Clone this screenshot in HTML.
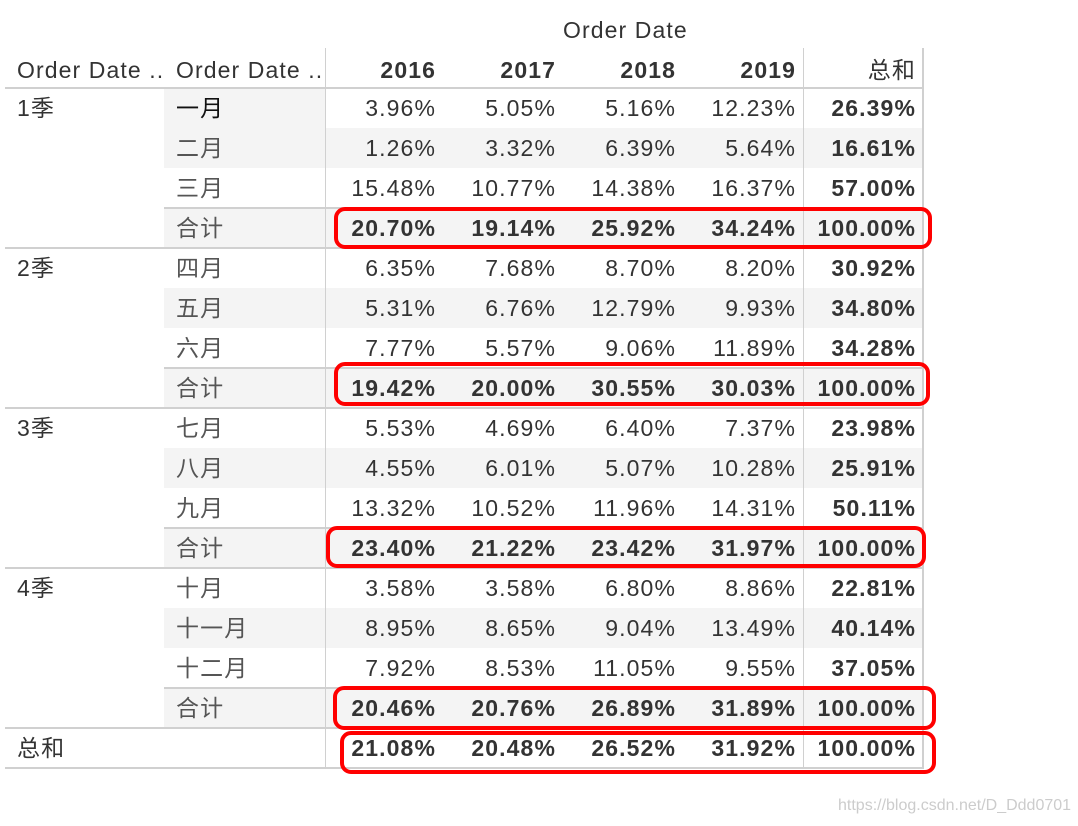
<!DOCTYPE html>
<html><head><meta charset="utf-8"><style>
body{margin:0;width:1078px;height:824px;background:#fff;overflow:hidden;font-family:"Liberation Sans","Noto Sans CJK SC",sans-serif;color:#333;}
#root{position:relative;width:1078px;height:824px;}
.t{position:absolute;font-size:23px;line-height:40px;white-space:nowrap;letter-spacing:1.1px;}
.r{text-align:right;width:130px;}
.b{font-weight:bold;}
.bg{position:absolute;background:#f4f4f4;}
.ln{position:absolute;background:#d0d0d0;}
.box{position:absolute;border:4px solid #f00;border-radius:11px;box-sizing:border-box;}
</style></head><body><div id="root"></div>
<script>
const years=['2016','2017','2018','2019','总和'];
const quarters=['1季','2季','3季','4季'];
const months=[['一月','二月','三月','合计'],['四月','五月','六月','合计'],['七月','八月','九月','合计'],['十月','十一月','十二月','合计']];
const values=[
[[3.96,5.05,5.16,12.23,26.39],[1.26,3.32,6.39,5.64,16.61],[15.48,10.77,14.38,16.37,57.00],[20.70,19.14,25.92,34.24,100.00]],
[[6.35,7.68,8.70,8.20,30.92],[5.31,6.76,12.79,9.93,34.80],[7.77,5.57,9.06,11.89,34.28],[19.42,20.00,30.55,30.03,100.00]],
[[5.53,4.69,6.40,7.37,23.98],[4.55,6.01,5.07,10.28,25.91],[13.32,10.52,11.96,14.31,50.11],[23.40,21.22,23.42,31.97,100.00]],
[[3.58,3.58,6.80,8.86,22.81],[8.95,8.65,9.04,13.49,40.14],[7.92,8.53,11.05,9.55,37.05],[20.46,20.76,26.89,31.89,100.00]]];
const grand=[21.08,20.48,26.52,31.92,100.00];
const R=document.getElementById('root');
function add(cls,css,txt){const e=document.createElement('div');e.className=cls;e.style.cssText=css;if(txt!==undefined)e.textContent=txt;R.appendChild(e);return e;}
const colR=[436,556,676,796,916];
const top0=88,rh=40;
let e=add('bg','left:164px;top:88px;width:161px;height:40px;');

for(let q=0;q<4;q++){for(const i of [1,3]){const y=top0+(q*4+i)*rh;e=add('bg','left:164px;top:'+y+'px;width:758px;height:40px;');
}}
function line(x,y,w,h,n){const l=add('ln','left:'+x+'px;top:'+y+'px;width:'+w+'px;height:'+h+'px;');}
line(325,48,1,720,'row-header-divider');line(803,48,1,720,'total-column-divider');line(922,48,2,720,'right-border');
line(5,87,919,2,'header-bottom-border');
for(let q=0;q<4;q++){line(164,top0+(q*4+3)*rh-1,760,2,'subtotal-separator');line(5,top0+(q*4+4)*rh-1,919,2,'quarter-separator');}
line(5,767,919,2,'table-bottom-border');
e=add('t','left:563px;top:10px;','Order Date');
e=add('t','left:17px;top:50px;','Order Date ..');
e=add('t','left:176px;top:50px;','Order Date ..');
years.forEach((y,j)=>{const h=add('t r'+(j<4?' b':''),'left:'+(colR[j]-130)+'px;top:50px;',y);});
const fmt=v=>v.toFixed(2)+'%';
for(let q=0;q<4;q++){
 e=add('t','left:17px;top:'+(top0+q*4*rh)+'px;',quarters[q]);
 for(let i=0;i<4;i++){const y=top0+(q*4+i)*rh;
  e=add('t','left:176px;top:'+y+'px;color:'+(q==0&&i==0?'#111':'#555')+';',months[q][i]);
  values[q][i].forEach((v,j)=>{const c=add('t r'+(i==3||j==4?' b':''),'left:'+(colR[j]-130)+'px;top:'+y+'px;',fmt(v));});
 }}
e=add('t','left:17px;top:728px;','总和');
grand.forEach((v,j)=>{const c=add('t r b','left:'+(colR[j]-130)+'px;top:728px;',fmt(v));});
const boxes=[[334,207,598,42],[334,362,596,44],[326,526,600,42],[333,686,603,44],[340,731,596,43]];
boxes.forEach(b=>{const x=add('box','left:'+b[0]+'px;top:'+b[1]+'px;width:'+b[2]+'px;height:'+b[3]+'px;');});
e=add('t','left:838px;top:786px;font-size:16px;letter-spacing:0;color:#ccc;','https://blog.csdn.net/D_Ddd0701');
</script></body></html>
